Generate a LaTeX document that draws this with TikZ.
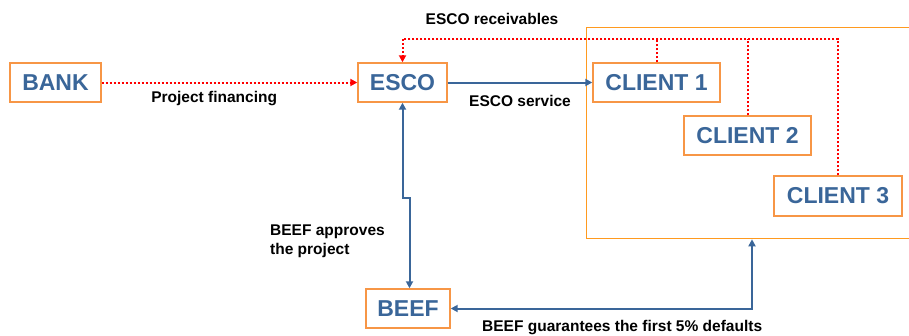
\documentclass[tikz,border=0pt]{standalone}
\usepackage{fontspec}
\setmainfont{Liberation Sans}
\usetikzlibrary{arrows.meta,positioning,calc}
\definecolor{boxorange}{HTML}{F79646}
\definecolor{frameorange}{HTML}{FF9A1F}
\definecolor{steel}{HTML}{3A6699}
\definecolor{flowred}{HTML}{FF0000}

\begin{document}
\begin{tikzpicture}[
  x=1pt,y=-1pt,
  party/.style={
    draw=boxorange,
    line width=1.4pt,
    fill=white,
    text=steel,
    font=\fontsize{23}{27}\selectfont\bfseries,
    inner sep=0pt,
    minimum height=39pt
  },
  group/.style={draw=frameorange,line width=1.3pt,inner sep=0pt},
  caption/.style={font=\fontsize{15.5}{19}\selectfont\bfseries,text=black,inner sep=0pt},
  flow/.style={-{Triangle[length=7pt,width=7pt]},line width=2pt,draw=steel},
  twoway/.style={{Triangle[length=7pt,width=7pt]}-{Triangle[length=7pt,width=7pt]},line width=2pt,draw=steel},
  money/.style={-{Triangle[length=7pt,width=7pt]},line width=2pt,draw=flowred,dash pattern=on 2pt off 2pt},
  moneyline/.style={line width=2pt,draw=flowred,dash pattern=on 2pt off 2pt}
]
\useasboundingbox (0,0) rectangle (909,335);

\node[party,minimum width=91pt] (bank) at (55.5,82.5) {BANK};
\node[party,minimum width=89pt] (esco) at (402.5,82.5) {ESCO};
\node[group,minimum width=330pt,minimum height=211pt,anchor=north west] (clients) at (586,27) {};
\node[party,minimum width=127pt] (client1) at (656.5,82.5) {CLIENT 1};
\node[party,minimum width=127pt] (client2) at (747.5,135.5) {CLIENT 2};
\node[party,minimum width=128pt,minimum height=40pt] (client3) at (838,196) {CLIENT 3};
\node[party,minimum width=84pt] (beef) at (408,308.5) {BEEF};

% helper coordinates for the bent connectors
\coordinate (recv) at (0,39);
\coordinate (jog) at (0,198);
\coordinate (drop) at (409.5,0);
\coordinate (guard) at (752,0);

% money flows
\draw[money] (bank) -- node[caption,below=7.5pt,pos=0.44] (financing) {Project financing} (esco);
\draw[money] (client3.north) -- (client3.north |- recv) -- (esco.north |- recv) -- (esco.north);
\draw[moneyline] (client1.north) -- (client1.north |- recv);
\draw[moneyline] (client2.north) -- (client2.north |- recv);
\node[caption] (receivables) at (492,19) {ESCO receivables};

% service and guarantees
\draw[flow] (esco) -- node[caption,below=12pt] (service) {ESCO service} (client1);
\draw[twoway] (esco.south) |- (drop |- jog) -- (drop |- beef.north);
\draw[twoway] (beef.east) -| (guard |- clients.south);

\node[caption,align=left,anchor=west] (approve) at (270,241) {BEEF approves\\the project};
\node[caption,anchor=base west] (guarantee) at (482,331) {BEEF guarantees the first 5\% defaults};
\end{tikzpicture}
\end{document}
